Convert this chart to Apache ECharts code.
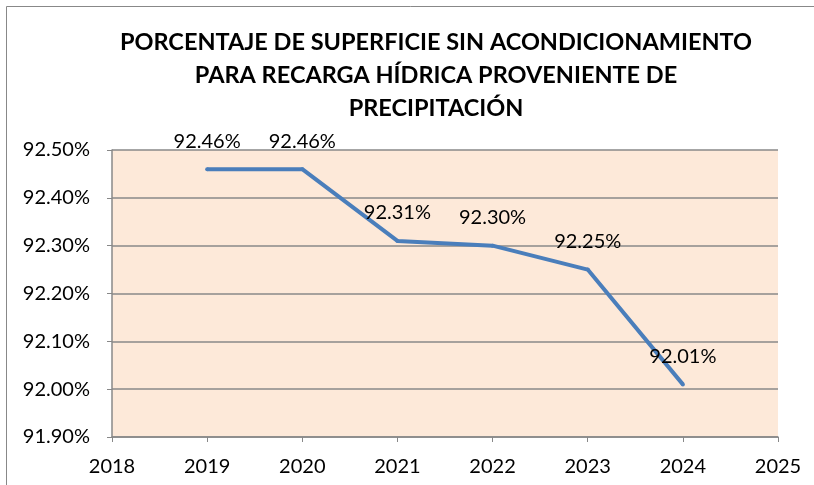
<!DOCTYPE html>
<html><head><meta charset="utf-8">
<script src="https://cdn.jsdelivr.net/npm/echarts@6/dist/echarts.min.js"></script>
<style>html,body{margin:0;padding:0;background:#fff}#c{width:814px;height:485px}</style>
</head><body><div id="c"></div>
<script>
var years = [2019, 2020, 2021, 2022, 2023, 2024];
var values = [92.46, 92.46, 92.31, 92.30, 92.25, 92.01];
var titleText = 'PORCENTAJE DE SUPERFICIE SIN ACONDICIONAMIENTO\nPARA RECARGA HÍDRICA PROVENIENTE DE\nPRECIPITACIÓN';
var chart = echarts.init(document.getElementById('c'), null, {renderer: 'canvas'});
var font = 'Lato, Carlito, Calibri, sans-serif';
chart.setOption({
  animation: false,
  backgroundColor: '#ffffff',
  graphic: [{type: 'rect', shape: {x: 6.5, y: 6.5, width: 900, height: 600}, style: {fill: 'none', stroke: '#888', lineWidth: 1}, z: -1}],
  title: {
    text: titleText, left: 431, textAlign: 'center', top: 21,
    textStyle: {fontFamily: font, fontWeight: 'bold', fontSize: 23.5, lineHeight: 33, color: '#000'}
  },
  grid: {left: 112, right: 36, top: 150, bottom: 48, show: true, backgroundColor: '#FDE9D9', borderWidth: 0},
  xAxis: {
    type: 'value', min: 2018, max: 2025, interval: 1,
    axisLine: {show: true, lineStyle: {color: '#888', width: 1.5}},
    axisTick: {show: true, length: 5, inside: false, lineStyle: {color: '#888'}},
    axisLabel: {fontFamily: font, fontSize: 20, color: '#000', margin: 20, formatter: function(v){return String(v);}},
    splitLine: {show: false}
  },
  yAxis: {
    type: 'value', min: 91.9, max: 92.5, interval: 0.1,
    axisLine: {show: true, lineStyle: {color: '#888', width: 1.5}},
    axisTick: {show: true, length: 5, lineStyle: {color: '#888'}},
    axisLabel: {fontFamily: font, fontSize: 20, color: '#000', margin: 22, formatter: function(v){return v.toFixed(2) + '%';}},
    splitLine: {show: true, lineStyle: {color: '#888', width: 1.5}}
  },
  series: [{
    type: 'line', symbol: 'circle', symbolSize: 4, showSymbol: true,
    itemStyle: {color: '#4A7EBB', borderWidth: 0},
    data: years.map(function(y, i){return [y, values[i]];}),
    lineStyle: {color: '#4A7EBB', width: 4},
    label: {show: true, position: 'top', distance: 16, fontFamily: font, fontSize: 20, color: '#000',
      formatter: function(p){return p.value[1].toFixed(2) + '%';}}
  }]
});
</script></body></html>
